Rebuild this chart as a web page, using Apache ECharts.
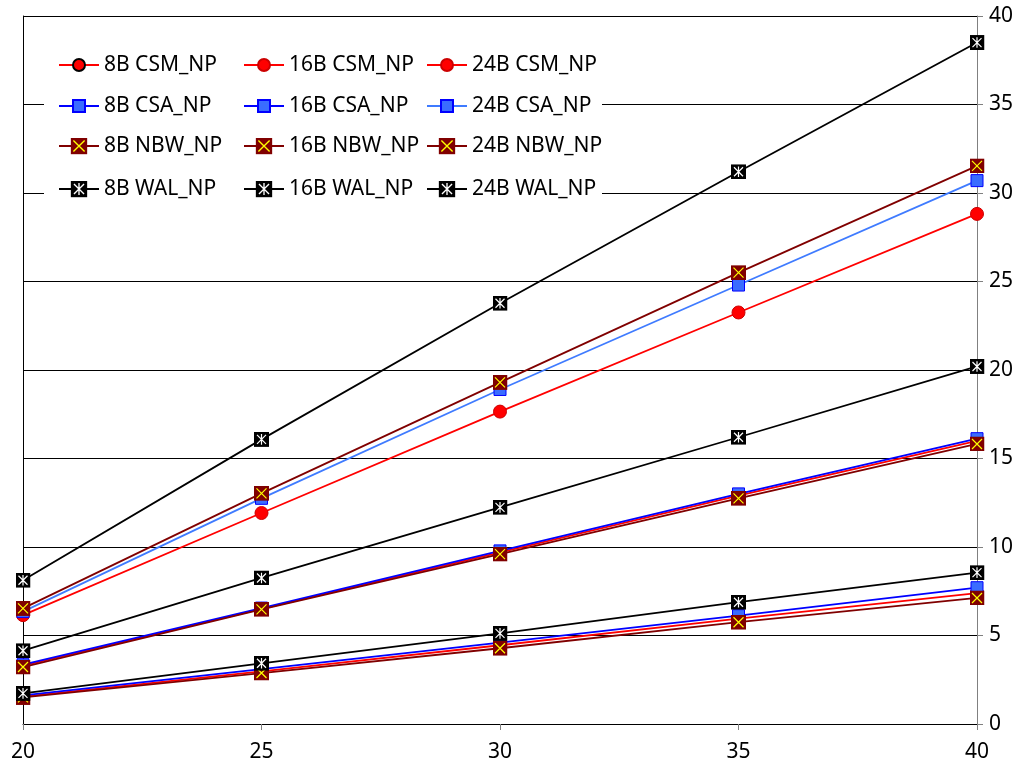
<!DOCTYPE html>
<html><head><meta charset="utf-8">
<script src="https://cdn.jsdelivr.net/npm/echarts@6/dist/echarts.min.js"></script>
<style>html,body{margin:0;padding:0;background:#fff}#c{width:1021px;height:766px}</style>
</head><body><div id="c"></div>
<script>
// ---- data ----
const xLabels = ['20', '25', '30', '35', '40'];
const csm8  = [1.55, 2.97, 4.45, 5.95, 7.40];
const csm16 = [3.30, 6.50, 9.70, 12.90, 16.00];
const csm24 = [6.15, 11.92, 17.65, 23.25, 28.82];
const csa8  = [1.62, 3.10, 4.60, 6.12, 7.70];
const csa16 = [3.35, 6.55, 9.78, 13.00, 16.12];
const csa24 = [6.35, 12.75, 18.90, 24.80, 30.70];
const nbw8  = [1.50, 2.88, 4.28, 5.75, 7.12];
const nbw16 = [3.22, 6.48, 9.60, 12.75, 15.82];
const nbw24 = [6.53, 13.03, 19.30, 25.50, 31.53];
const wal8  = [1.73, 3.43, 5.12, 6.88, 8.55];
const wal16 = [4.14, 8.25, 12.24, 16.20, 20.20];
const wal24 = [8.12, 16.08, 23.77, 31.20, 38.50];
const names = ['8B CSM_NP','16B CSM_NP','24B CSM_NP','8B CSA_NP','16B CSA_NP','24B CSA_NP',
               '8B NBW_NP','16B NBW_NP','24B NBW_NP','8B WAL_NP','16B WAL_NP','24B WAL_NP'];
const values = [csm8, csm16, csm24, csa8, csa16, csa24, nbw8, nbw16, nbw24, wal8, wal16, wal24];

// ---- styles ----
const FONT = 'Noto Sans';
const FS = 21;
function svgSym(body) {
  return 'image://data:image/svg+xml;charset=utf-8,' + encodeURIComponent(
    "<svg xmlns='http://www.w3.org/2000/svg' width='30' height='30' viewBox='0 0 15 15'>" + body + "</svg>");
}
const nbwSym = svgSym("<rect width='15' height='15' fill='#800000'/><path d='M2.5 2.5L12.5 12.5M12.5 2.5L2.5 12.5' stroke='#ffff00' stroke-width='1.2' fill='none'/>");
const walSym = svgSym("<rect width='15' height='15' fill='#000000'/><path d='M3 3L12 12M12 3L3 12M7.5 2.2V12.8' stroke='#ffffff' stroke-width='1.2' fill='none'/>");

function styleFor(i) {
  const t = Math.floor(i / 3), k = i % 3;
  if (t === 0) return { line: '#ff0000', symbol: 'circle', size: 13,
    item: { color: '#ff0000', borderColor: k === 0 ? '#000000' : '#cc0000', borderWidth: 1 } };
  if (t === 1) return { line: k === 2 ? '#3f7bff' : '#0000ff', symbol: 'rect', size: 12,
    item: { color: '#3a6cff', borderColor: '#0000ff', borderWidth: 1 } };
  if (t === 2) return { line: '#800000', symbol: nbwSym, size: 15, item: { color: '#800000' } };
  return { line: '#000000', symbol: walSym, size: 15, item: { color: '#000000' } };
}

const series = names.map((n, i) => {
  const s = styleFor(i);
  return {
    name: n, type: 'line', data: values[i], xAxisIndex: 0, yAxisIndex: 0,
    symbol: s.symbol, symbolSize: s.size, showAllSymbol: true,
    lineStyle: { color: s.line, width: 1.8 }, itemStyle: s.item,
    emphasis: { disabled: true }, z: 3
  };
});

const colX = [58, 243, 426];
const rowC = [62, 103, 146, 189];
const legends = names.map((n, i) => {
  const row = Math.floor(i / 3);
  const ih = row >= 2 ? 21 : 15;
  return {
    data: [n], left: colX[i % 3], top: rowC[row] - ih / 2, padding: 0,
    itemWidth: 40, itemHeight: ih, itemGap: 0, selectedMode: false,
    textStyle: { fontFamily: FONT, fontSize: FS, color: '#000', padding: [0, 0, 0, 0] },
    z: 6
  };
});

const chart = echarts.init(document.getElementById('c'), null, { renderer: 'canvas' });
chart.setOption({
  animation: false,
  backgroundColor: '#ffffff',
  grid: { left: 23, right: 44, top: 16, bottom: 42 },
  legend: legends,
  graphic: [{ type: 'rect', shape: { x: 44, y: 38, width: 558, height: 172 },
              style: { fill: '#ffffff' }, z: 5, silent: true }],
  xAxis: [{
    type: 'category', data: xLabels, boundaryGap: false,
    axisLine: { lineStyle: { color: '#000', width: 1 } },
    axisTick: { show: true, length: 6, lineStyle: { color: '#808080' } },
    axisLabel: { fontFamily: FONT, fontSize: FS, color: '#000', margin: 18 },
    splitLine: { show: false }
  }],
  yAxis: [{
    type: 'value', position: 'right', min: 0, max: 40, interval: 5,
    axisLine: { show: true, lineStyle: { color: '#808080', width: 1 } },
    axisTick: { show: true, length: 6, lineStyle: { color: '#808080' } },
    axisLabel: { fontFamily: FONT, fontSize: FS, color: '#000', margin: 12 },
    splitLine: { show: true, lineStyle: { color: '#000', width: 1.2 } }
  }, {
    type: 'value', position: 'left', min: 0, max: 40, interval: 5,
    axisLine: { show: true, lineStyle: { color: '#000', width: 1 } },
    axisTick: { show: false }, axisLabel: { show: false }, splitLine: { show: false }
  }],
  series: series
});
</script></body></html>
